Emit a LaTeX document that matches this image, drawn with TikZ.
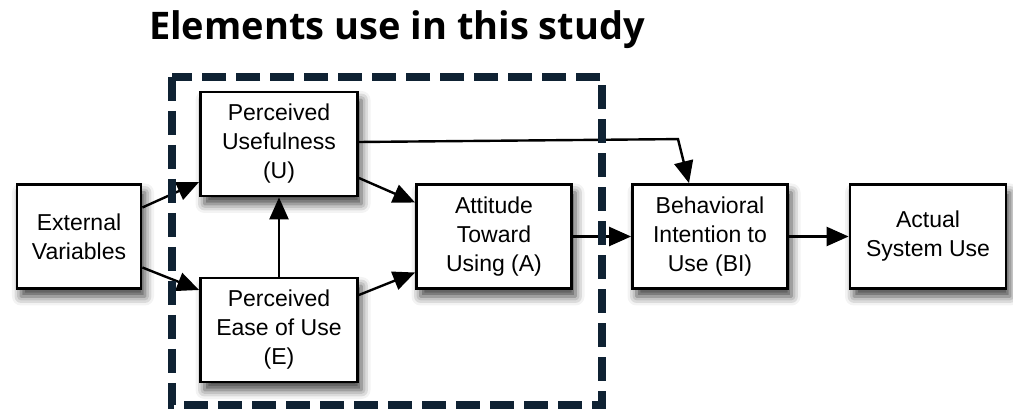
\documentclass[tikz,border=0pt]{standalone}
\usepackage{fontspec}
\setmainfont{Liberation Sans}
\newfontfamily\titlefont{Open Sans}
\usetikzlibrary{arrows.meta,calc,shadows.blur}
\definecolor{framenavy}{HTML}{0F2233}
\tikzset{
  tambox/.style={draw=black, line width=1.4pt, fill=white, align=center,
    inner sep=0pt, minimum width=#1*0.5pt, minimum height=52pt,
    font=\fontsize{11.5}{14.5}\selectfont,
    blur shadow={shadow xshift=2pt, shadow yshift=-4pt, shadow blur radius=4.5pt, shadow opacity=75}},
  link/.style={line width=1.2pt, -{Triangle[length=11pt,width=9.5pt]}},
  studyframe/.style={draw=framenavy, line width=3.8pt, dash pattern=on 12pt off 5pt}
}
\begin{document}
\begin{tikzpicture}[x=0.5pt, y=-0.5pt]
  \useasboundingbox (0,0) rectangle (1013,410);

  % title
  \node[anchor=base, font=\titlefont\bfseries\fontsize{19}{22}\selectfont] (title) at (397,40) {Elements use in this study};

  % TAM constructs
  \node[tambox=124] (ev)  at (79,236.5)  {External\\Variables};
  \node[tambox=157] (pu)  at (279,144)   {Perceived\\Usefulness\\(U)};
  \node[tambox=157] (pe)  at (279,330)   {Perceived\\Ease of Use\\(E)};
  \node[tambox=155] (att) at (494,236.5) {Attitude\\Toward\\Using (A)};
  \node[tambox=155] (bi)  at (710,236.5) {Behavioral\\Intention to\\Use (BI)};
  \node[tambox=156] (act) at (928,236.5) {Actual\\System Use};

  % relations
  \draw[link] ($(ev.east)+(0,-29)$) -- ($(pu.west)+(0,38)$);
  \draw[link] ($(ev.east)+(0,31)$)  -- ($(pe.west)+(0,-40)$);
  \draw[link] (pe.north) -- (pu.south);
  \draw[link] ($(pu.east)+(0,34)$)  -- ($(att.west)+(0,-34)$);
  \draw[link] ($(pe.east)+(0,-35)$) -- ($(att.west)+(0,36)$);
  \draw[link] ($(pu.east)+(0,-2)$) -- ($(bi.north)+(-32,-44)$) -- ($(bi.north)+(-21,0)$);
  \draw[link] (att.east) -- (bi.west);
  \draw[link] (bi.east) -- (act.west);

  % constructs used in the study
  \draw[studyframe] (172,77) rectangle (602,405);
\end{tikzpicture}
\end{document}
